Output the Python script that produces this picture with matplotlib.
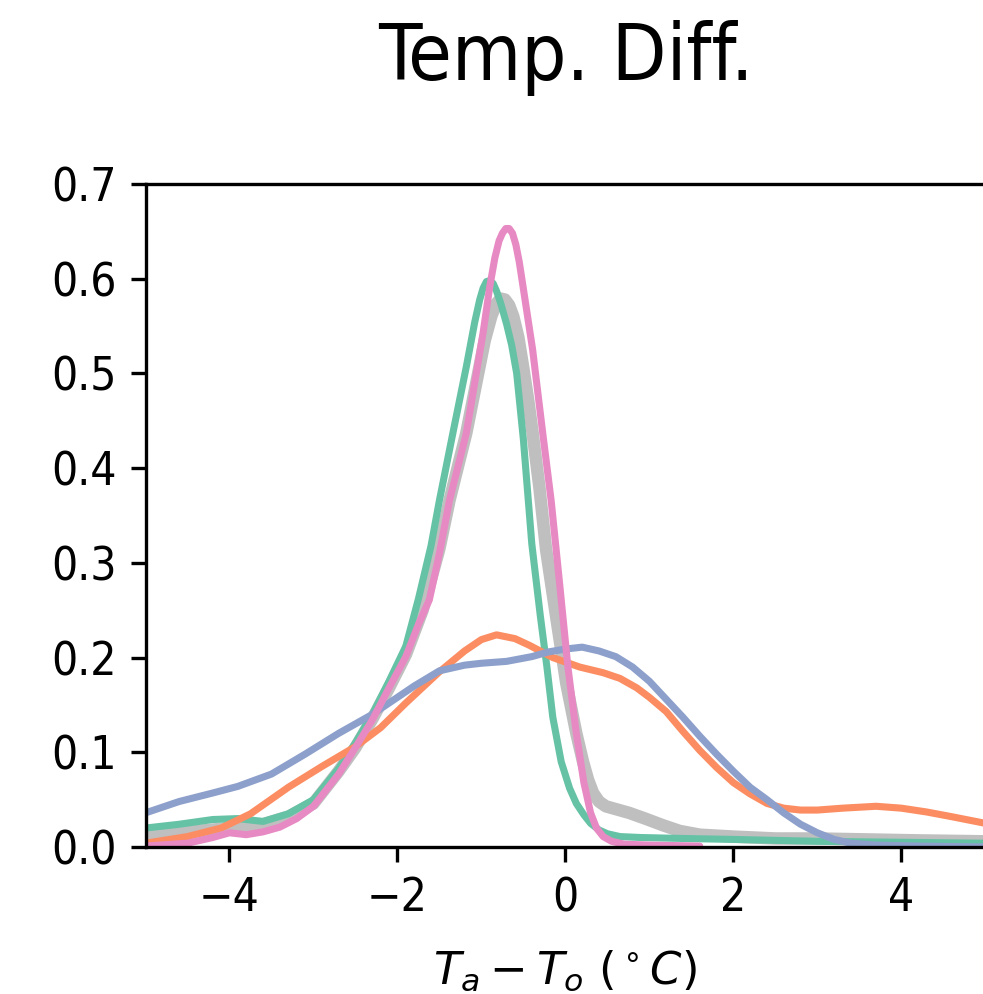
import matplotlib
matplotlib.use("Agg")
import matplotlib.pyplot as plt

# ---- data ----
gray_x = [-5.0, -4.5, -4.0, -3.6, -3.3, -3.0, -2.7, -2.5, -2.3, -2.1, -1.9, -1.7, -1.5, -1.38, -1.18,
          -1.05, -0.96, -0.88, -0.82, -0.77, -0.72, -0.67, -0.62, -0.56, -0.50, -0.44, -0.39, -0.31, -0.23,
          -0.11, 0.01, 0.13, 0.21, 0.27, 0.33, 0.40, 0.48, 0.6, 0.76, 0.95, 1.16, 1.36, 1.6, 2.0, 2.5,
          3.0, 3.6, 4.2, 5.0]
gray_y = [0.012, 0.016, 0.020, 0.024, 0.032, 0.046, 0.080, 0.105, 0.135, 0.168, 0.203, 0.250, 0.315, 0.366, 0.437,
          0.495, 0.535, 0.561, 0.574, 0.579, 0.578, 0.572, 0.560, 0.538, 0.505, 0.470, 0.437, 0.380, 0.314,
          0.243, 0.173, 0.120, 0.090, 0.071, 0.057, 0.048, 0.043, 0.040, 0.036, 0.030, 0.023, 0.017, 0.013,
          0.011, 0.009, 0.009, 0.008, 0.007, 0.006]

green_x = [-5.0, -4.6, -4.2, -3.9, -3.6, -3.3, -3.0, -2.7, -2.5, -2.3, -2.1, -1.9, -1.75, -1.6, -1.5, -1.34,
           -1.18, -1.08, -1.02, -0.98, -0.94, -0.90, -0.86, -0.82, -0.77, -0.70, -0.64, -0.58, -0.50, -0.40,
           -0.30, -0.22, -0.15, -0.05, 0.05, 0.13, 0.22, 0.30, 0.40, 0.5, 0.65, 0.9, 1.4, 2.0, 3.0, 4.0, 5.0]
green_y = [0.020, 0.024, 0.029, 0.030, 0.027, 0.035, 0.050, 0.083, 0.110, 0.140, 0.175, 0.212, 0.262, 0.318, 0.366, 0.437,
           0.507, 0.554, 0.578, 0.590, 0.597, 0.598, 0.595, 0.587, 0.574, 0.552, 0.530, 0.500, 0.430, 0.320,
           0.245, 0.190, 0.137, 0.090, 0.062, 0.046, 0.034, 0.025, 0.018, 0.014, 0.011, 0.010, 0.009, 0.008,
           0.006, 0.005, 0.004]

orange_x = [-5.0, -4.5, -4.1, -3.75, -3.3, -2.9, -2.5, -2.2, -1.9, -1.5, -1.2, -1.0, -0.82, -0.6, -0.43,
            -0.15, 0.17, 0.45, 0.65, 0.85, 1.0, 1.2, 1.4, 1.6, 1.8, 2.0, 2.2, 2.4, 2.6, 2.8, 3.0, 3.3,
            3.7, 4.0, 4.3, 4.6, 5.0]
orange_y = [0.004, 0.011, 0.020, 0.035, 0.063, 0.085, 0.106, 0.126, 0.152, 0.185, 0.207, 0.219, 0.224, 0.220, 0.213,
            0.200, 0.190, 0.184, 0.178, 0.168, 0.158, 0.143, 0.122, 0.102, 0.084, 0.068, 0.056, 0.046, 0.041, 0.039,
            0.039, 0.041, 0.043, 0.041, 0.037, 0.032, 0.025]

blue_x = [-5.0, -4.6, -4.2, -3.9, -3.5, -3.1, -2.7, -2.3, -2.0, -1.8, -1.5, -1.2, -1.0, -0.7, -0.4, -0.2,
          0.0, 0.2, 0.4, 0.6, 0.8, 1.0, 1.2, 1.4, 1.6, 1.8, 2.0, 2.2, 2.4, 2.6, 2.8, 3.0, 3.2, 3.4, 3.7, 4.2, 5.0]
blue_y = [0.036, 0.048, 0.057, 0.064, 0.077, 0.098, 0.120, 0.140, 0.158, 0.170, 0.186, 0.192, 0.194, 0.196, 0.201, 0.206,
          0.209, 0.211, 0.207, 0.201, 0.190, 0.175, 0.156, 0.137, 0.117, 0.098, 0.080, 0.063, 0.050, 0.036, 0.024, 0.015,
          0.008, 0.004, 0.002, 0.001, 0.000]

pink_x = [-5.0, -4.5, -4.2, -4.0, -3.8, -3.6, -3.4, -3.2, -3.0, -2.7, -2.5, -2.3, -2.1, -1.9, -1.75, -1.62,
          -1.5, -1.38, -1.18, -0.98, -0.90, -0.84, -0.79, -0.75, -0.71, -0.67, -0.63, -0.59, -0.55, -0.51,
          -0.45, -0.39, -0.27, -0.17, -0.07, 0.03, 0.13, 0.22, 0.30, 0.37, 0.45, 0.55, 0.7, 1.0, 1.6]
pink_y = [0.001, 0.004, 0.010, 0.015, 0.013, 0.016, 0.021, 0.030, 0.043, 0.077, 0.105, 0.134, 0.168, 0.201, 0.235, 0.261,
          0.310, 0.366, 0.437, 0.543, 0.592, 0.622, 0.640, 0.648, 0.653, 0.653, 0.648, 0.636, 0.618, 0.595,
          0.560, 0.525, 0.437, 0.366, 0.279, 0.190, 0.120, 0.068, 0.036, 0.020, 0.011, 0.006, 0.003, 0.002, 0.001]

x_ticks = [-4, -2, 0, 2, 4]
y_ticks = [0.0, 0.1, 0.2, 0.3, 0.4, 0.5, 0.6, 0.7]
title = "Temp. Diff."
xlabel = r"$T_a - T_o\ (^\circ C)$"

# ---- figure ----
W, H, DPI = 983, 994, 300
fig = plt.figure(figsize=(W / DPI, H / DPI), dpi=DPI)
ax = fig.add_axes([145.5 / W, 1 - 847 / H, (985.3 - 145.5) / W, (847 - 184) / H])

kw = dict(solid_capstyle="round", solid_joinstyle="round")
ax.plot(gray_x, gray_y, color="#bfbfbf", lw=3.0, **kw)
ax.plot(green_x, green_y, color="#66c2a5", lw=1.7, **kw)
ax.plot(orange_x, orange_y, color="#fc8d62", lw=1.7, **kw)
ax.plot(blue_x, blue_y, color="#8da0cb", lw=1.7, **kw)
ax.plot(pink_x, pink_y, color="#e78ac3", lw=1.7, **kw)

ax.set_xlim(-5, 5)
ax.set_ylim(0, 0.7)
ax.set_xticks(x_ticks)
ax.set_yticks(y_ticks)
ax.set_xticklabels([f"{t:d}".replace("-", "\u2212") for t in x_ticks])
ax.set_yticklabels([f"{t:.1f}" for t in y_ticks])
for lab in ax.get_xticklabels() + ax.get_yticklabels():
    lab.set_fontsize(11)
    lab.set_fontstretch("condensed")
ax.set_xlabel(xlabel, fontsize=10.8, labelpad=6.5)
ax.set_title(title, fontsize=19, pad=25, family="DejaVu Sans", fontstretch="condensed")

fig.savefig("out.png", dpi=DPI)
